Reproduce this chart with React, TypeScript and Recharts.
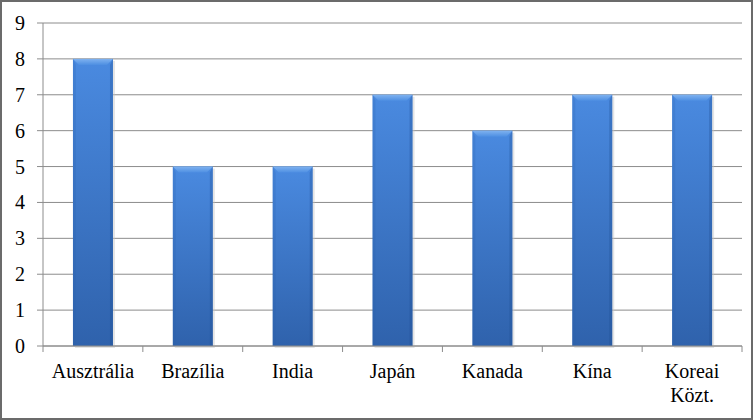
import React from "react";
import { BarChart, Bar, XAxis, YAxis, CartesianGrid } from "recharts";

const categories = ["Ausztrália", "Brazília", "India", "Japán", "Kanada", "Kína", "Koreai Közt."];
const values = [8, 5, 5, 7, 6, 7, 7];
const yTicks = [0, 1, 2, 3, 4, 5, 6, 7, 8, 9];

const data = categories.map((name, i) => ({ name, value: values[i] }));

const FONT = "Liberation Serif";
const GRID = "#8c8c8c";

const BevelBar = (props: any) => {
  const { x, y, width, height } = props;
  if (!height || height <= 0) return null;
  const b = 6;
  return (
    <g>
      <rect x={x + 2} y={y + 2} width={width} height={height} fill="#c4c4c4" opacity={0.45} />
      <rect x={x} y={y} width={width} height={height} fill="url(#barV)" />
      <polygon
        points={`${x},${y} ${x + width},${y} ${x + width - b},${y + b} ${x + b},${y + b}`}
        fill="url(#bevelTop)"
      />
      <polygon
        points={`${x},${y} ${x + 3},${y + b} ${x + 3},${y + height} ${x},${y + height}`}
        fill="#2a5ea8"
        opacity={0.2}
      />
      <polygon
        points={`${x + width},${y} ${x + width - 3},${y + b} ${x + width - 3},${y + height} ${x + width},${y + height}`}
        fill="#1f4c8e"
        opacity={0.3}
      />
    </g>
  );
};

const CatTick = (props: any) => {
  const { x, y, payload, index } = props;
  const half = payload.offset || 0;
  const words = String(payload.value).split(" ");
  return (
    <g>
      <line x1={x - half} y1={y - 8} x2={x - half} y2={y - 2} stroke={GRID} />
      {index === categories.length - 1 && (
        <line x1={x + half} y1={y - 8} x2={x + half} y2={y - 2} stroke={GRID} />
      )}
      <text
        x={x}
        y={y + 24}
        textAnchor="middle"
        fontFamily={FONT}
        fontSize={20}
        fill="#000"
      >
        {words.map((l: string, i: number) => (
          <tspan key={i} x={x} dy={i === 0 ? 0 : 24} fontFamily={FONT}>
            {l}
          </tspan>
        ))}
      </text>
    </g>
  );
};

const ValTick = (props: any) => {
  const { x, y, payload } = props;
  return (
    <text x={x} y={y} dy={7} textAnchor="end" fontFamily={FONT} fontSize={20} fill="#000">
      {payload.value}
    </text>
  );
};

export default function App() {
  return (
    <div
      style={{
        position: "absolute",
        left: 0,
        top: 0,
        width: 753,
        height: 420,
        boxSizing: "border-box",
        border: "2px solid #6b6b6b",
        background: "#fff",
        fontFamily: FONT,
      }}
    >
      <div style={{ position: "absolute", left: -2, top: -2 }}>
        <BarChart
          width={753}
          height={420}
          data={data}
          margin={{ top: 23, right: 11, left: 0, bottom: 0 }}
          barCategoryGap="30%"
          style={{ fontFamily: FONT }}
        >
          <defs>
            <linearGradient id="barV" x1="0" y1="0" x2="0" y2="1">
              <stop offset="0%" stopColor="#4a8ae0" />
              <stop offset="100%" stopColor="#2f62ac" />
            </linearGradient>
            <linearGradient id="bevelTop" x1="0" y1="0" x2="0" y2="1">
              <stop offset="0%" stopColor="#7fb2f0" />
              <stop offset="100%" stopColor="#4e8fe2" />
            </linearGradient>
          </defs>
          <CartesianGrid vertical={false} stroke={GRID} />
          <XAxis
            dataKey="name"
            height={74}
            stroke={GRID}
            tickLine={false}
            tick={<CatTick />}
            interval={0}
          />
          <YAxis
            width={43}
            domain={[0, 9]}
            ticks={yTicks}
            stroke={GRID}
            tickSize={6}
            tickMargin={12}
            tick={<ValTick />}
          />
          <Bar dataKey="value" shape={<BevelBar />} isAnimationActive={false} />
        </BarChart>
      </div>
    </div>
  );
}
